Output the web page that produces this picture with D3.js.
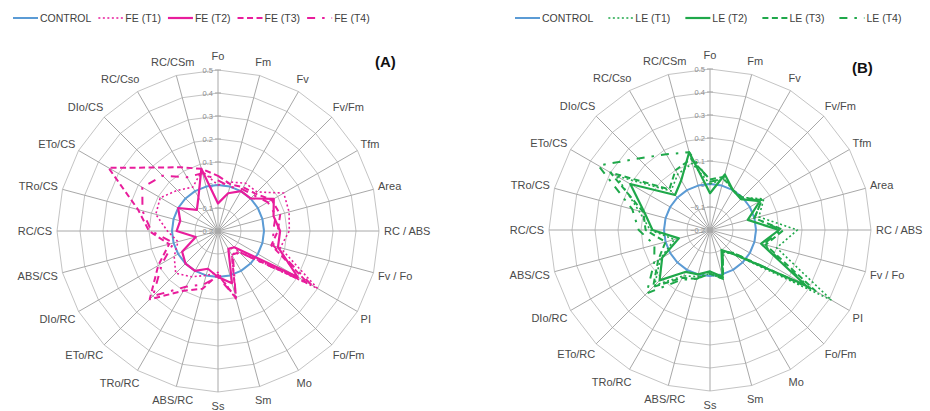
<!DOCTYPE html>
<html>
<head>
<meta charset="utf-8">
<script src="https://cdn.jsdelivr.net/npm/d3@7"></script>
<style>
  body { margin: 0; background: #fff; }
  svg { font-family: "Liberation Sans", Arial, sans-serif; }
</style>
</head>
<body>
<svg id="chart" width="930" height="411"></svg>
<script>
// axes, clockwise from the top
const axes = ['Fo', 'Fm', 'Fv', 'Fv/Fm', 'Tfm', 'Area', 'RC / ABS', 'Fv / Fo', 'PI', 'Fo/Fm', 'Mo', 'Sm',
  'Ss', 'ABS/RC', 'TRo/RC', 'ETo/RC', 'DIo/RC', 'ABS/CS', 'RC/CS', 'TRo/CS', 'ETo/CS', 'DIo/CS', 'RC/Cso', 'RC/CSm'];
const ticks = [-0.2, -0.1, 0, 0.1, 0.2, 0.3, 0.4, 0.5];

const control = axes.map(() => 0);

// panel A, FE
const feT1 = [0.0, 0.02, 0.04, 0.04, 0.13, 0.12, 0.11, 0.08, 0.3, -0.08, -0.08, 0.11,
  -0.02, 0.0, 0.03, 0.06, 0.02, -0.02, 0.02, 0.08, 0.09, 0.05, 0.02, 0.07];
const feT2 = [-0.08, -0.03, 0.0, 0.0, 0.08, 0.05, 0.07, 0.07, 0.2, -0.1, -0.11, 0.035,
  0.0, -0.03, 0.0, 0.0, -0.02, -0.1, -0.02, -0.03, 0.0, -0.07, -0.03, 0.08];
const feT3 = [0.04, 0.01, 0.02, 0.03, 0.07, 0.08, 0.06, 0.04, 0.25, -0.07, -0.08, 0.1,
  -0.01, 0.06, 0.1, 0.22, 0.1, 0.02, 0.1, 0.16, 0.35, 0.19, 0.12, 0.08];
const feT4 = [0.02, 0.0, 0.01, 0.02, 0.05, 0.06, 0.04, 0.05, 0.27, -0.07, -0.07, 0.1,
  0.0, 0.04, 0.08, 0.2, 0.08, 0.0, 0.09, 0.14, 0.18, 0.14, 0.07, 0.06];

// panel B, LE
const leT1 = [0.0, 0.03, 0.0, 0.0, 0.07, 0.02, 0.18, 0.1, 0.41, -0.05, -0.09, 0.02,
  -0.01, 0.01, 0.03, 0.14, 0.05, -0.04, 0.06, 0.12, 0.27, 0.04, 0.08, 0.1];
const leT2 = [-0.04, 0.05, 0.0, -0.01, 0.05, -0.03, 0.1, 0.03, 0.28, -0.05, -0.1, 0.01,
  -0.02, 0.0, 0.01, 0.11, 0.04, -0.06, 0.05, 0.095, 0.2, 0.015, 0.05, 0.15];
const leT3 = [0.02, 0.04, 0.0, 0.0, 0.06, 0.0, 0.12, 0.05, 0.33, -0.06, -0.09, 0.02,
  -0.01, 0.02, 0.04, 0.15, 0.06, 0.0, 0.08, 0.1, 0.3, 0.05, 0.1, 0.12];
const leT4 = [0.01, 0.03, 0.0, -0.01, 0.06, 0.0, 0.11, 0.04, 0.3, -0.06, -0.09, 0.02,
  -0.02, 0.02, 0.05, 0.19, 0.08, 0.05, 0.11, 0.15, 0.36, 0.24, 0.18, 0.15];

const blue = '#5b9bd5';
const pink = '#e81d9c';
const green = '#1fa84a';

const styles = [
  { dash: null, width: 2 },          // control
  { dash: '2,2.5', width: 1.6 },     // T1 dotted
  { dash: null, width: 2.2 },        // T2 solid
  { dash: '6,3.5', width: 2 },       // T3 dashed
  { dash: '8,7,2.5,7', width: 2 }    // T4 dash-dot
];

const panels = [
  { cx: 218, cy: 231, tag: '(A)', tagX: 375, tagY: 67, prefix: 'FE', colour: pink,
    series: [control, feT1, feT2, feT3, feT4], legendX: 13, gap: 7 },
  { cx: 710, cy: 230, tag: '(B)', tagX: 852, tagY: 73, prefix: 'LE', colour: green,
    series: [control, leT1, leT2, leT3, leT4], legendX: 515, gap: 15 }
];

const svg = d3.select('#chart');
const R = 161;
const r = d3.scaleLinear().domain([-0.2, 0.5]).range([0, R]);
const angle = d3.scaleLinear().domain([0, axes.length]).range([0, 2 * Math.PI]);

function drawPanel(p) {
  const g = svg.append('g').attr('transform', `translate(${p.cx},${p.cy})`);

  // rings (polygons)
  const ring = d3.lineRadial().curve(d3.curveLinearClosed);
  g.append('g')
    .selectAll('path')
    .data(ticks.slice(1))
    .join('path')
    .attr('d', t => ring(axes.map((a, i) => [angle(i), r(t)])))
    .attr('fill', 'none')
    .attr('stroke', '#c4c4c4')
    .attr('stroke-width', 1);

  // spokes
  g.append('g')
    .selectAll('line')
    .data(axes)
    .join('line')
    .attr('x1', 0).attr('y1', 0)
    .attr('x2', (d, i) => R * Math.sin(angle(i)))
    .attr('y2', (d, i) => -R * Math.cos(angle(i)))
    .attr('stroke', '#a8a8a8')
    .attr('stroke-width', 1);

  // tick labels along the Fo axis
  const tg = g.append('g');
  tg.selectAll('line')
    .data(ticks)
    .join('line')
    .attr('x1', -3).attr('x2', 3)
    .attr('y1', t => -r(t)).attr('y2', t => -r(t))
    .attr('stroke', '#a8a8a8');
  tg.selectAll('text')
    .data(ticks)
    .join('text')
    .attr('x', -5)
    .attr('y', t => -r(t) + 2.5)
    .attr('text-anchor', 'end')
    .attr('font-size', 7.5)
    .attr('fill', '#8c8c8c')
    .text(t => d3.format('.1~f')(t));

  // axis labels
  g.append('g')
    .selectAll('text')
    .data(axes)
    .join('text')
    .attr('x', (d, i) => (R + 14) * Math.sin(angle(i)))
    .attr('y', (d, i) => -(R + 14) * Math.cos(angle(i)) + 4)
    .attr('text-anchor', (d, i) => {
      const s = Math.sin(angle(i));
      return Math.abs(s) < 0.3 ? 'middle' : (s > 0 ? 'start' : 'end');
    })
    .attr('dx', (d, i) => {
      const s = Math.sin(angle(i));
      return Math.abs(s) < 0.3 ? 0 : (s > 0 ? -9 : 9);
    })
    .attr('font-size', 11)
    .attr('fill', '#4a4a4a')
    .text(d => d);

  // series
  const line = d3.lineRadial()
    .angle((d, i) => angle(i))
    .radius(d => r(d))
    .curve(d3.curveLinearClosed);
  g.append('g')
    .selectAll('path')
    .data(p.series)
    .join('path')
    .attr('d', d => line(d))
    .attr('fill', 'none')
    .attr('stroke', (d, i) => i === 0 ? blue : p.colour)
    .attr('stroke-width', (d, i) => styles[i].width)
    .attr('stroke-dasharray', (d, i) => styles[i].dash)
    .attr('stroke-linejoin', 'round');

  svg.append('text')
    .attr('x', p.tagX).attr('y', p.tagY)
    .attr('font-size', 15)
    .attr('font-weight', 'bold')
    .attr('fill', '#111')
    .text(p.tag);

  // legend
  const names = ['CONTROL'].concat([1, 2, 3, 4].map(k => `${p.prefix} (T${k})`));
  const lg = svg.append('g').attr('transform', `translate(${p.legendX},18)`);
  let x = 0;
  names.forEach((n, i) => {
    lg.append('line')
      .attr('x1', x).attr('x2', x + 25)
      .attr('y1', 0).attr('y2', 0)
      .attr('stroke', i === 0 ? blue : p.colour)
      .attr('stroke-width', styles[i].width)
      .attr('stroke-dasharray', styles[i].dash);
    const t = lg.append('text')
      .attr('x', x + 27).attr('y', 3.5)
      .attr('font-size', 10.5)
      .attr('fill', '#404040')
      .text(n);
    x += 27 + t.node().getComputedTextLength() + p.gap;
  });
}

panels.forEach(drawPanel);
</script>
</body>
</html>
